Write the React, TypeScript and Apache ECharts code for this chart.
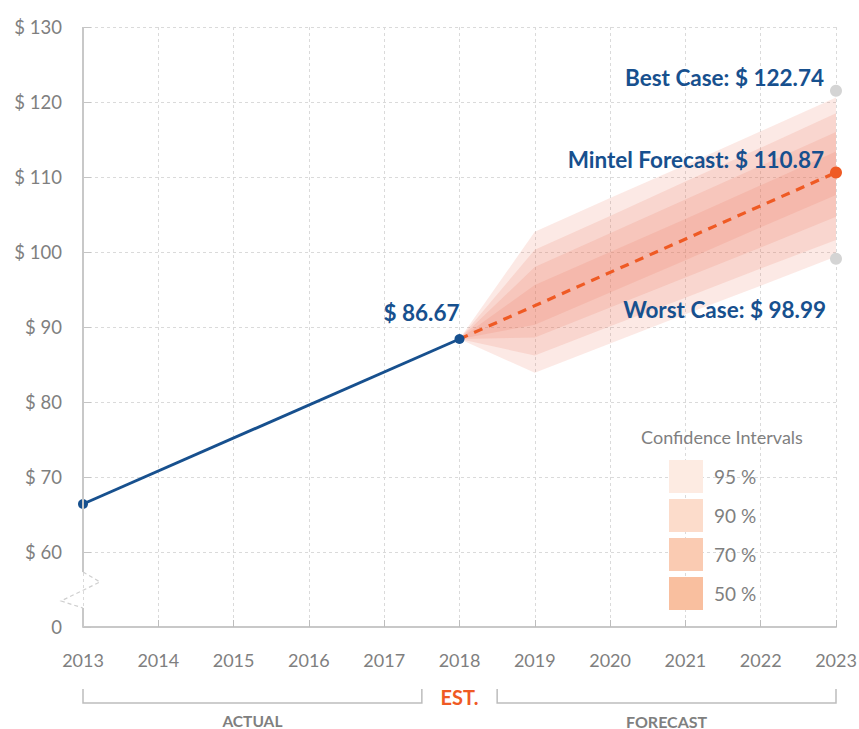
import React, { useEffect, useRef } from "react";
import * as echarts from "echarts";

// ---- data ----
const years = ["2013", "2014", "2015", "2016", "2017", "2018", "2019", "2020", "2021", "2022", "2023"];
const actualValues = [66.4, null, null, null, null, 88.4, null, null, null, null, null];
const forecastValues = [null, null, null, null, null, 88.4, null, null, null, null, 110.6];
const bestCaseValues = [null, null, null, null, null, null, null, null, null, null, 121.5];
const worstCaseValues = [null, null, null, null, null, null, null, null, null, null, 99.1];

const ci95Low = [null, null, null, null, null, 88.4, 83.9, 87.8, 91.7, 95.5, 99.4];
const ci95High = [null, null, null, null, null, 88.4, 102.7, 107.2, 111.6, 116.1, 120.6];
const ci90Low = [null, null, null, null, null, 88.4, 86.2, 90.1, 93.9, 97.8, 101.6];
const ci90High = [null, null, null, null, null, 88.4, 100.3, 104.8, 109.4, 113.9, 118.5];
const ci70Low = [null, null, null, null, null, 88.4, 88.6, 92.6, 96.6, 100.6, 104.7];
const ci70High = [null, null, null, null, null, 88.4, 98.0, 102.5, 107.0, 111.5, 116.0];
const ci50Low = [null, null, null, null, null, 88.4, 90.3, 94.6, 98.9, 103.3, 107.6];
const ci50High = [null, null, null, null, null, 88.4, 95.6, 100.0, 104.4, 108.9, 113.4];

const ciNames = ["95 %", "90 %", "70 %", "50 %"];
const ciLegendColors = ["#fdebe2", "#fcdccb", "#facbb2", "#f9bf9f"];

const yMin = 50; // shown as "0" below the axis break
const yMax = 130;
const yStep = 10;

const estLabel = "$ 86.67";
const bestLabel = "Best Case: $ 122.74";
const forecastLabel = "Mintel Forecast: $ 110.87";
const worstLabel = "Worst Case: $ 98.99";
const legendTitle = "Confidence Intervals";
const actualText = "ACTUAL";
const estText = "EST.";
const forecastText = "FORECAST";

// ---- styles ----
const FONT = "Lato, 'Noto Sans', sans-serif";
const NAVY = "#17508e";
const ORANGE = "#ef5a24";
const GRAY_TEXT = "#7f7f7f";
const AXIS_GRAY = "#c8c8c8";
const GRID_GRAY = "#dadada";
const BAND_COLOR = "rgba(238,108,78,0.15)";

export default function App() {
  const ref = useRef<HTMLDivElement>(null);

  useEffect(() => {
    if (!ref.current) return;
    const chart = echarts.init(ref.current, undefined, { renderer: "svg" });

    const bands = [
      [ci95Low, ci95High],
      [ci90Low, ci90High],
      [ci70Low, ci70High],
      [ci50Low, ci50High],
    ];

    const bandSeries: any[] = [];
    bands.forEach(([low, high], i) => {
      bandSeries.push({
        name: ciNames[i] + " base",
        type: "line",
        stack: "ci" + i,
        data: low,
        symbol: "none",
        lineStyle: { opacity: 0, width: 0 },
        silent: true,
        z: 1,
      });
      bandSeries.push({
        name: ciNames[i],
        type: "line",
        stack: "ci" + i,
        data: high.map((h, k) => (h == null || low[k] == null ? null : +(h - (low[k] as number)).toFixed(2))),
        symbol: "none",
        lineStyle: { opacity: 0, width: 0 },
        areaStyle: { color: BAND_COLOR, opacity: 1 },
        silent: true,
        z: 1,
      });
    });

    const boldBlue = {
      color: NAVY,
      fontFamily: FONT,
      fontWeight: "bold",
      fontSize: 22.5,
      opacity: 1,
    };

    const option: any = {
      animation: false,
      textStyle: { fontFamily: FONT },
      grid: {
        left: 83,
        right: 23,
        top: 27,
        bottom: 102,
        containLabel: false,
        outerBoundsMode: "none",
      },
      legend: {
        orient: "vertical",
        left: 669,
        top: 460,
        padding: 0,
        itemWidth: 34,
        itemHeight: 33,
        itemGap: 6,
        icon: "rect",
        selectedMode: false,
        data: ciNames.map((n, i) => ({
          name: n,
          itemStyle: { color: ciLegendColors[i], borderWidth: 0, opacity: 1 },
        })),
        textStyle: {
          fontFamily: FONT,
          fontSize: 19,
          color: GRAY_TEXT,
          padding: [0, 0, 0, 6],
        },
      },
      xAxis: {
        type: "category",
        data: years,
        boundaryGap: false,
        axisLine: { show: true, lineStyle: { color: AXIS_GRAY, width: 2 } },
        axisTick: { show: true, inside: true, length: 7, interval: 0, lineStyle: { color: "#bdbdbd" } },
        axisLabel: { interval: 0, color: GRAY_TEXT, fontSize: 18, fontFamily: FONT, margin: 24 },
        splitLine: { show: true, interval: 0, lineStyle: { color: GRID_GRAY, type: [3, 3], width: 1 } },
      },
      yAxis: {
        type: "value",
        min: yMin,
        max: yMax,
        interval: yStep,
        axisLine: { show: false },
        axisTick: { show: true, inside: true, length: 8, lineStyle: { color: "#c4c4c4" } },
        axisLabel: {
          color: GRAY_TEXT,
          fontSize: 18.5,
          fontFamily: FONT,
          margin: 21,
          formatter: (v: number) => (v === yMin ? "0" : "$ " + v),
        },
        splitLine: { show: true, lineStyle: { color: GRID_GRAY, type: [3, 3], width: 1 } },
      },
      series: [
        ...bandSeries,
        {
          name: "Forecast",
          type: "line",
          data: forecastValues.map((v, i) =>
            i === 10
              ? {
                  value: v,
                  symbol: "circle",
                  symbolSize: 12,
                  label: {
                    show: true,
                    formatter: forecastLabel,
                    position: "left",
                    distance: 6,
                    offset: [0, -13],
                    ...boldBlue,
                  },
                }
              : { value: v, symbol: "none" }
          ),
          connectNulls: true,
          lineStyle: { color: ORANGE, width: 3.2, type: [9, 7] },
          itemStyle: { color: ORANGE },
          z: 3,
        },
        {
          name: "Best",
          type: "scatter",
          data: bestCaseValues,
          symbolSize: 12,
          itemStyle: { color: "#d4d4d4", opacity: 1 },
          label: {
            show: true,
            formatter: bestLabel,
            position: "left",
            distance: 6,
            offset: [0, -13],
            ...boldBlue,
          },
          z: 3,
        },
        {
          name: "Worst",
          type: "scatter",
          data: worstCaseValues,
          symbolSize: 12,
          itemStyle: { color: "#d4d4d4", opacity: 1 },
          label: {
            show: true,
            formatter: worstLabel,
            position: "left",
            distance: 4,
            offset: [0, 51],
            ...boldBlue,
          },
          z: 3,
        },
        {
          name: "Actual",
          type: "line",
          data: actualValues.map((v, i) =>
            i === 5
              ? {
                  value: v,
                  label: {
                    show: true,
                    formatter: estLabel,
                    position: "top",
                    align: "right",
                    distance: 10,
                    ...boldBlue,
                  },
                }
              : v
          ),
          connectNulls: true,
          symbol: "circle",
          symbolSize: 10,
          lineStyle: { color: NAVY, width: 3 },
          itemStyle: { color: NAVY },
          z: 4,
        },
      ],
    };

    chart.setOption(option);

    // decorations: axis line with break, brackets below the axis
    const px = (i: number) => chart.convertToPixel({ xAxisIndex: 0 }, i) as number;
    const py = (v: number) => chart.convertToPixel({ yAxisIndex: 0 }, v) as number;
    const x0 = px(0);
    const yTop = py(yMax);
    const y60 = py(yMin + yStep);
    const yBase = py(yMin);
    const breakTop = y60 + 20;
    const breakBottom = yBase - 19;
    const xEnd = px(years.length - 1);
    const xEstL = (px(4) + px(5)) / 2;
    const xEstR = (px(5) + px(6)) / 2;
    const bracketTop = yBase + 62;
    const bracketBottom = yBase + 76;

    const lineStyle = { stroke: AXIS_GRAY, lineWidth: 2 };
    const bracketStyle = { stroke: "#bdbdbd", lineWidth: 1.5, fill: null };

    chart.setOption({
      graphic: [
        { type: "line", shape: { x1: x0, y1: yTop, x2: x0, y2: breakTop }, style: lineStyle, z: 10 },
        { type: "line", shape: { x1: x0, y1: breakBottom, x2: x0, y2: yBase }, style: lineStyle, z: 10 },
        {
          type: "polyline",
          shape: {
            points: [
              [x0, breakTop],
              [x0 + 17, breakTop + 10],
              [x0 - 22, breakTop + 29],
              [x0, breakBottom],
            ],
          },
          style: { stroke: "#cfcfcf", lineWidth: 1.2, lineDash: [4, 3], fill: null },
          z: 10,
        },
        {
          type: "polyline",
          shape: {
            points: [
              [x0, bracketTop],
              [x0, bracketBottom],
              [xEstL, bracketBottom],
              [xEstL, bracketTop],
            ],
          },
          style: bracketStyle,
        },
        {
          type: "polyline",
          shape: {
            points: [
              [xEstR, bracketTop],
              [xEstR, bracketBottom],
              [xEnd, bracketBottom],
              [xEnd, bracketTop],
            ],
          },
          style: bracketStyle,
        },
        {
          type: "text",
          x: (x0 + xEstL) / 2,
          y: yBase + 94,
          style: {
            text: actualText,
            fill: GRAY_TEXT,
            font: `bold 15.5px ${FONT}`,
            align: "center",
            verticalAlign: "middle",
          },
        },
        {
          type: "text",
          x: px(5),
          y: yBase + 70,
          style: {
            text: estText,
            fill: ORANGE,
            font: `bold 20px ${FONT}`,
            align: "center",
            verticalAlign: "middle",
          },
        },
        {
          type: "text",
          x: (xEstR + xEnd) / 2,
          y: yBase + 94,
          style: {
            text: forecastText,
            fill: GRAY_TEXT,
            font: `bold 16px ${FONT}`,
            align: "center",
            verticalAlign: "middle",
          },
        },
        {
          type: "text",
          x: 722,
          y: 437,
          style: {
            text: legendTitle,
            fill: GRAY_TEXT,
            font: `18px ${FONT}`,
            align: "center",
            verticalAlign: "middle",
          },
        },
      ],
    });

    return () => chart.dispose();
  }, []);

  return (
    <div
      ref={ref}
      style={{ position: "fixed", left: 0, top: 0, width: 859, height: 729, background: "#fff" }}
    />
  );
}
